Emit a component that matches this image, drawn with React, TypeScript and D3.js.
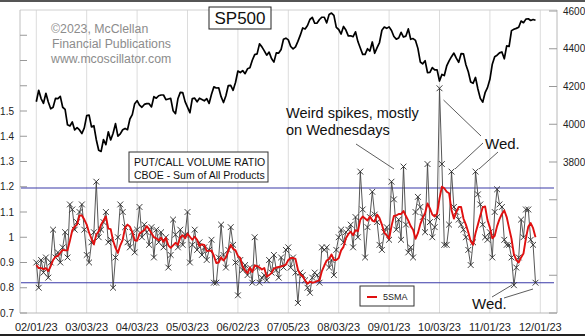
import React from "react";
import * as d3 from "d3";

// ---- data ----
const xTickLabels = ["02/01/23","03/03/23","04/03/23","05/03/23","06/02/23","07/05/23","08/03/23","09/01/23","10/03/23","11/01/23","12/01/23"];
const xTickIndex = [0, 21, 42, 63, 84, 105, 126, 147, 168, 189, 210];
const leftTicks = [0.7, 0.8, 0.9, 1.0, 1.1, 1.2, 1.3, 1.4, 1.5, 1.6, 1.7, 1.8];
const leftTickLabels = ["0.7","0.8","0.9","1","1.1","1.2","1.3","1.4","1.5","","",""];
const rightTicks = [3000, 3200, 3400, 3600, 3800, 4000, 4200, 4400, 4600];
const rightTickLabels = ["","","","","3800","4000","4200","4400","4600"];
const bands = [0.82, 1.195];

// S&P 500 daily closes, 2023-02-01 .. 2023-11-29
const sp500 = [
  4119,4180,4136,4111,4164,4118,4082,4090,4137,4136,4148,4090,4079,3997,3991,4012,3970,3982,3970,
  3951,3981,4046,4048,3986,3992,3918,3862,3856,3919,3892,3960,3917,3952,4003,3937,3949,3971,3978,3971,4028,4051,4109,
  4125,4101,4090,4105,4109,4109,4092,4146,4138,4151,4155,4155,4130,4134,4137,4072,4056,4135,4169,
  4168,4120,4091,4061,4136,4138,4119,4138,4131,4124,4136,4110,4159,4198,4192,4193,4146,4115,4151,4205,4206,4180,
  4221,4282,4274,4284,4268,4294,4299,4339,4369,4373,4426,4410,4389,4366,4382,4348,4329,4378,4377,4396,4450,
  4456,4447,4412,4399,4410,4439,4472,4510,4505,4523,4555,4566,4535,4536,4555,4567,4567,4537,4582,4589,
  4577,4513,4502,4478,4518,4499,4468,4469,4464,4490,4438,4404,4370,4370,4400,4388,4436,4376,4406,4433,4498,4515,4508,
  4516,4497,4465,4451,4457,4487,4462,4467,4505,4450,4454,4444,4402,4330,4320,4337,4274,4275,4300,4288,
  4288,4229,4264,4258,4309,4336,4358,4377,4350,4328,4374,4373,4315,4278,4224,4217,4248,4187,4137,4117,4167,4194,
  4238,4318,4358,4366,4378,4383,4347,4415,4412,4496,4503,4508,4514,4547,4538,4557,4559,4550,4555,4551
];

// CBOE total put/call volume ratio
const leadInRatios = [0.86, 0.91, 0.88, 0.90];
const putCall = [
  0.90,0.80,0.91,0.86,0.92,0.84,0.90,1.03,0.92,0.94,0.90,0.96,1.02,0.92,1.13,1.11,1.03,1.06,1.10,1.13,
  1.03,0.93,0.90,0.98,1.02,1.22,1.00,1.03,1.06,1.10,0.98,0.99,0.80,0.92,1.00,1.13,1.10,1.04,0.98,0.96,
  1.02,0.94,1.03,1.12,1.00,1.05,1.02,0.97,1.04,0.92,1.03,0.98,1.02,0.96,1.00,0.88,0.93,1.07,1.01,0.96,
  1.03,0.97,1.01,1.10,0.90,0.97,1.03,0.95,0.98,0.93,0.96,0.91,0.95,0.99,0.82,0.82,0.92,1.05,0.93,0.88,
  0.95,1.04,0.97,0.90,0.77,0.91,0.87,0.89,0.85,0.88,0.82,1.00,0.88,0.82,0.84,0.85,0.83,0.91,0.86,0.93,
  0.87,0.84,0.92,0.88,0.95,0.96,0.88,0.92,0.86,0.74,0.86,0.85,0.83,0.80,0.78,0.84,0.86,0.85,0.82,0.96,
  0.95,0.96,0.88,0.91,0.85,0.95,1.00,1.03,0.98,1.02,1.03,1.05,0.96,1.08,1.00,1.26,1.11,0.92,1.04,1.08,
  1.18,1.09,1.06,0.97,0.95,1.02,1.04,0.99,1.22,1.15,1.03,1.07,0.99,1.28,1.05,0.94,0.96,0.92,1.10,1.16,
  1.12,1.08,1.02,1.29,1.06,1.00,1.04,1.08,1.59,1.29,0.97,0.97,1.05,1.26,1.12,1.10,1.07,1.05,1.03,1.00,
  0.95,0.89,0.98,1.26,1.17,1.13,1.05,1.00,0.99,1.02,0.92,1.10,1.19,1.13,1.12,0.99,0.97,0.97,0.92,0.81,
  0.88,0.92,1.07,1.00,1.11,1.11,0.99,0.97,0.82
];

const W = 585, H = 336;
const FONT = "'Liberation Sans', Arial, sans-serif";

export default function App() {
  const x = d3.scaleLinear().domain([0, 210]).range([36.3, 540.3]);
  const yL = d3.scaleLinear().domain([0.7, 1.9]).range([313, 10]);
  const yR = d3.scaleLinear().domain([3000, 4600]).range([313, 11]);

  const all = [...leadInRatios, ...putCall];
  const sma = putCall.map((_, i) => d3.mean(all.slice(i, i + 5)) as number);

  const spLine = d3.line<number>().x((_, i) => x(i)).y((d) => yR(d))(sp500) || "";
  const pcLine = d3.line<number>().x((_, i) => x(i)).y((d) => yL(d))(putCall) || "";
  const smaLine = d3.line<number>().x((_, i) => x(i)).y((d) => yL(d))(sma) || "";

  const left = 20, right = 557, top = 10, bottom = 313;
  const m = 2.9;
  const marks = putCall
    .map((d, i) => {
      const cx = x(i), cy = yL(d);
      return `M${cx - m},${cy - m}L${cx + m},${cy + m}M${cx + m},${cy - m}L${cx - m},${cy + m}`;
    })
    .join("");

  return (
    <div style={{ position: "fixed", left: 0, top: 0 }}>
      <svg width={W} height={H} style={{ display: "block", fontFamily: FONT }}>
        <rect x={0} y={0} width={W} height={H} fill="#fff" />
        <rect x={0} y={0} width={W} height={2} fill="#555" />
        <rect x={0} y={334} width={W} height={2} fill="#222" />

        {/* vertical gridlines */}
        {xTickIndex.map((t) => (
          <line key={t} x1={x(t)} x2={x(t)} y1={top} y2={bottom} stroke="#dcdcdc" strokeWidth={1} />
        ))}

        {/* frame */}
        <line x1={left} x2={right} y1={top} y2={top} stroke="#d0d0d0" />
        <line x1={left} x2={right} y1={bottom} y2={bottom} stroke="#b8b8b8" />
        <line x1={left} x2={left} y1={top} y2={bottom} stroke="#c0c0c0" />
        <line x1={right} x2={right} y1={top} y2={bottom} stroke="#b8b8b8" />

        {/* left ticks */}
        {leftTicks.map((t, i) => (
          <g key={t}>
            <line x1={left} x2={left + 7} y1={yL(t)} y2={yL(t)} stroke="#999" />
            <text x={14} y={yL(t) + 3.5} fontSize={10} textAnchor="end" fill="#222">{leftTickLabels[i]}</text>
          </g>
        ))}
        {/* right ticks */}
        {rightTicks.map((t, i) => (
          <g key={t}>
            <line x1={right - 8} x2={right} y1={yR(t)} y2={yR(t)} stroke="#999" />
            <text x={563} y={yR(t) + 3.6} fontSize={10} fill="#222">{rightTickLabels[i]}</text>
          </g>
        ))}
        {/* x labels */}
        {xTickIndex.map((t, i) => (
          <text key={t} x={x(t)} y={331} fontSize={11} textAnchor="middle" fill="#222">{xTickLabels[i]}</text>
        ))}

        {/* bands */}
        {bands.map((b) => (
          <line key={b} x1={left + 1} x2={right - 3} y1={yL(b)} y2={yL(b)} stroke="#3a3aa8" strokeWidth={1.1} />
        ))}

        {/* watermark */}
        <g fill="#8c8c8c" fontSize={12.3}>
          <text x={51} y={33}>©2023, McClellan</text>
          <text x={52} y={48}>Financial Publications</text>
          <text x={51} y={63}>www.mcoscillator.com</text>
        </g>

        {/* SP500 */}
        <path d={spLine} fill="none" stroke="#000" strokeWidth={1.7} strokeLinejoin="round" />
        <rect x={209} y={7} width={62} height={22} fill="#fff" stroke="#222" />
        <text x={240} y={24} fontSize={17} textAnchor="middle" fill="#111">SP500</text>

        {/* put/call */}
        <path d={pcLine} fill="none" stroke="#444" strokeWidth={0.9} />
        <path d={marks} fill="none" stroke="#2a2a2a" strokeWidth={0.9} />
        <path d={smaLine} fill="none" stroke="#e01010" strokeWidth={1.9} strokeLinejoin="round" />

        {/* PUT/CALL box */}
        <rect x={129} y={152} width={139} height={30} fill="#fff" stroke="#333" />
        <text x={134} y={166} fontSize={10.5} fill="#111">PUT/CALL VOLUME RATIO</text>
        <text x={134} y={178.5} fontSize={10.5} fill="#111">CBOE - Sum of All Products</text>

        {/* annotations */}
        <text x={286} y={118} fontSize={14.5} fill="#111">Weird spikes, mostly</text>
        <text x={286} y={135} fontSize={14.5} fill="#111">on Wednesdays</text>
        <line x1={356} y1={144} x2={394} y2={169} stroke="#333" strokeWidth={0.8} />

        <text x={485} y={149} fontSize={15} fill="#111">Wed.</text>
        <line x1={443.5} y1={100} x2={481} y2={136} stroke="#333" strokeWidth={0.8} />
        <line x1={483} y1={143} x2={455} y2={169} stroke="#333" strokeWidth={0.8} />
        <line x1={498} y1={152} x2={479} y2={169} stroke="#333" strokeWidth={0.8} />

        <text x={472} y={309} fontSize={15} fill="#111">Wed.</text>
        <line x1={492} y1={297} x2={512} y2={285} stroke="#333" strokeWidth={0.8} />
        <line x1={504} y1={298} x2={533} y2={289} stroke="#333" strokeWidth={0.8} />

        {/* legend */}
        <rect x={360} y={286} width={54} height={20} fill="#fff" stroke="#333" />
        <line x1={367} x2={377} y1={297} y2={297} stroke="#e01010" strokeWidth={2} />
        <text x={383} y={300} fontSize={9} fill="#222">5SMA</text>
      </svg>
    </div>
  );
}
